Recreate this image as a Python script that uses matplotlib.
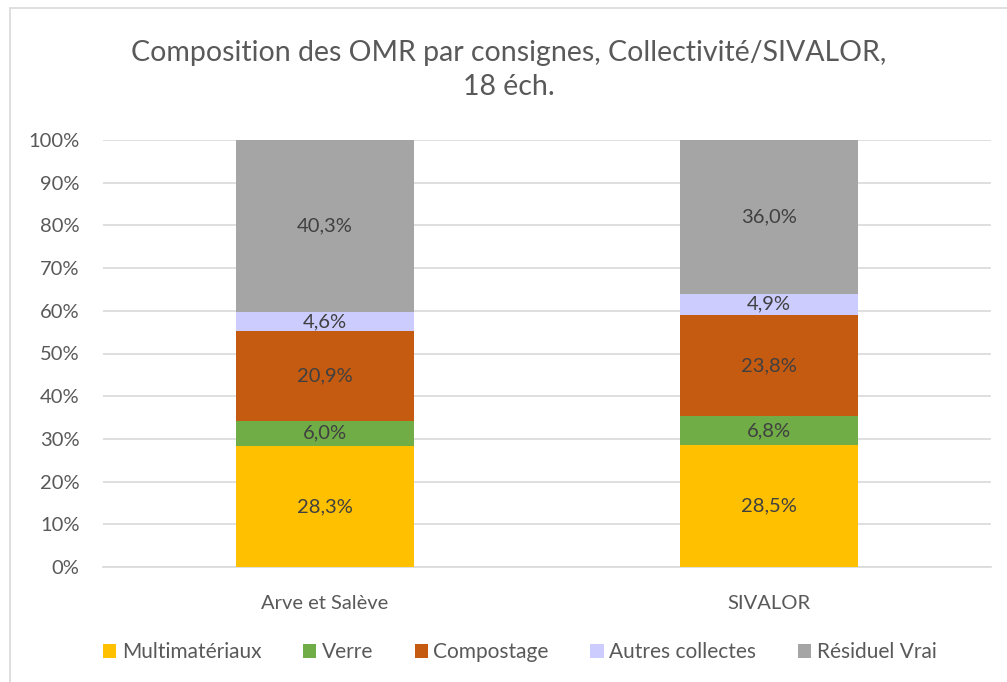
import matplotlib
matplotlib.use("Agg")
import matplotlib.pyplot as plt
from matplotlib.patches import Rectangle

CATEGORIES = ["Arve et Salève", "SIVALOR"]
SERIES = ["Multimatériaux", "Verre", "Compostage", "Autres collectes", "Résiduel Vrai"]
MULTIMATERIAUX = [28.3, 28.5]
VERRE = [6.0, 6.8]
COMPOSTAGE = [20.9, 23.8]
AUTRES = [4.6, 4.9]
RESIDUEL = [40.3, 36.0]
COLORS = ["#FFC000", "#70AD47", "#C55A11", "#CCCCFF", "#A5A5A5"]
YTICKS = [0, 10, 20, 30, 40, 50, 60, 70, 80, 90, 100]

plt.rcParams["font.family"] = ["Lato", "DejaVu Sans"]
TXT = "#595959"

fig = plt.figure(figsize=(10.07, 6.82), dpi=100)
# chart border (partially cropped in the reference)
fig.patches.append(Rectangle((10 / 1007, -0.1), 2, 1.1 - 8 / 682, transform=fig.transFigure,
                             fill=False, edgecolor="#D9D9D9", linewidth=1.2))

ax = fig.add_axes([103 / 1007, 1 - 567 / 682, (991 - 103) / 1007, (567 - 140) / 682])

values = [MULTIMATERIAUX, VERRE, COMPOSTAGE, AUTRES, RESIDUEL]
x = list(range(len(CATEGORIES)))
bottoms = [0.0] * len(CATEGORIES)
for name, vals, col in zip(SERIES, values, COLORS):
    ax.bar(x, vals, width=0.4, bottom=bottoms, color=col, label=name, zorder=3)
    for xi, b, v in zip(x, bottoms, vals):
        ax.text(xi, b + v / 2, f"{v:.1f}%".replace(".", ","), ha="center", va="center",
                fontsize=14.5, color="#404040", zorder=4)
    bottoms = [b + v for b, v in zip(bottoms, vals)]

ax.set_xlim(-0.5, 1.5)
ax.set_ylim(0, 100)
ax.set_yticks(YTICKS)
ax.set_yticklabels([f"{t}%" for t in YTICKS])
ax.set_xticks(x)
ax.set_xticklabels(CATEGORIES)
ax.tick_params(axis="both", length=0, labelsize=14.5, labelcolor=TXT)
ax.tick_params(axis="y", pad=17)
ax.tick_params(axis="x", pad=20)
ax.grid(axis="y", color="#D9D9D9", linewidth=1.2, zorder=0)
for s in ["top", "right", "left"]:
    ax.spines[s].set_visible(False)
ax.spines["bottom"].set_color("#D9D9D9")
ax.spines["bottom"].set_linewidth(1.2)

fig.text(0.5 + 10 / 1007 / 2, 1 - 70 / 682, "Composition des OMR par consignes, Collectivité/SIVALOR,\n18 éch.",
         ha="center", va="center", fontsize=20.5, color=TXT, linespacing=1.35)

fig.legend(loc="center", bbox_to_anchor=(0.516, 1 - 652 / 682), ncol=5, frameon=False,
           fontsize=15, labelcolor=TXT, handlelength=0.65, handleheight=0.65,
           handletextpad=0.25, columnspacing=2.0)

fig.savefig("out.png", dpi=100)
